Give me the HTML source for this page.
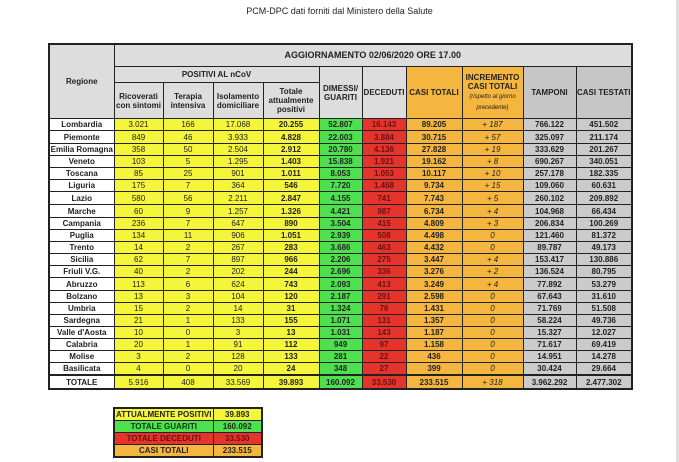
<!DOCTYPE html>
<html><head><meta charset="utf-8"><style>
body{margin:0;width:679px;height:462px;background:#fff;position:relative;overflow:hidden;font-family:"Liberation Sans",sans-serif;}
.title{position:absolute;left:0;width:679px;top:6px;text-align:center;font-size:9px;color:#222;}
.strip{position:absolute;right:0;top:0;width:3px;height:462px;background:#ddd;}
table{border-collapse:collapse;table-layout:fixed;position:absolute;}
td{border:1px solid #222;text-align:center;font-size:8px;font-weight:bold;padding:0;line-height:9px;color:#222;overflow:hidden;white-space:nowrap;}
#m{left:48px;top:43px;border:2px solid #222;}
#m tr.d td{height:11px;}
#m tr.t td{height:12px;}
.h{background:#ddd;white-space:normal;}
.g2{background:#c6c6c6;}
.y{background:#f5f53c;font-weight:normal;}
.yb{background:#f5f53c;}
.gr{background:#4fe04f;}
.r{background:#e4342c;color:#6a1010;}
.o{background:#f5b640;}
.oi{background:#f5b640;font-style:italic;font-weight:normal;}
.gy{background:#cbcbcb;}
.n{background:#fff;}
#s{left:113px;top:407px;border:2px solid #222;}
#s td{height:11px;font-size:8px;}
</style></head><body>
<div class="title">PCM-DPC dati forniti dal Ministero della Salute</div>
<div class="strip"></div>
<table id="m">
<colgroup><col style="width:65px"><col style="width:49px"><col style="width:50px"><col style="width:50px"><col style="width:56px"><col style="width:43px"><col style="width:44px"><col style="width:56px"><col style="width:61px"><col style="width:53px"><col style="width:56px"></colgroup>
<tr><td class="h" rowspan="3">Regione</td><td class="h" colspan="10" style="height:21px;font-size:9px">AGGIORNAMENTO 02/06/2020 ORE 17.00</td></tr>
<tr><td class="h" colspan="4" style="height:15px">POSITIVI AL nCoV</td><td class="h" rowspan="2">DIMESSI/<br>GUARITI</td><td class="h" rowspan="2">DECEDUTI</td><td class="o" rowspan="2">CASI TOTALI</td><td class="o" rowspan="2" style="white-space:normal;line-height:9px">INCREMENTO<br>CASI TOTALI<br><i style="font-weight:normal;font-size:6px">(rispetto al giorno precedente)</i></td><td class="g2" rowspan="2">TAMPONI</td><td class="g2" rowspan="2">CASI TESTATI</td></tr>
<tr><td class="h" style="height:35px">Ricoverati<br>con sintomi</td><td class="h">Terapia<br>intensiva</td><td class="h">Isolamento<br>domiciliare</td><td class="h">Totale<br>attualmente<br>positivi</td></tr>
<tr class="d"><td class="n">Lombardia</td><td class="y">3.021</td><td class="y">166</td><td class="y">17.068</td><td class="yb">20.255</td><td class="gr">52.807</td><td class="r">16.143</td><td class="o">89.205</td><td class="oi">+ 187</td><td class="gy">766.122</td><td class="gy">451.502</td></tr>
<tr class="t"><td class="n">Piemonte</td><td class="y">849</td><td class="y">46</td><td class="y">3.933</td><td class="yb">4.828</td><td class="gr">22.003</td><td class="r">3.884</td><td class="o">30.715</td><td class="oi">+ 57</td><td class="gy">325.097</td><td class="gy">211.174</td></tr>
<tr class="d"><td class="n">Emilia Romagna</td><td class="y">358</td><td class="y">50</td><td class="y">2.504</td><td class="yb">2.912</td><td class="gr">20.780</td><td class="r">4.136</td><td class="o">27.828</td><td class="oi">+ 19</td><td class="gy">333.629</td><td class="gy">201.267</td></tr>
<tr class="d"><td class="n">Veneto</td><td class="y">103</td><td class="y">5</td><td class="y">1.295</td><td class="yb">1.403</td><td class="gr">15.838</td><td class="r">1.921</td><td class="o">19.162</td><td class="oi">+ 8</td><td class="gy">690.267</td><td class="gy">340.051</td></tr>
<tr class="d"><td class="n">Toscana</td><td class="y">85</td><td class="y">25</td><td class="y">901</td><td class="yb">1.011</td><td class="gr">8.053</td><td class="r">1.053</td><td class="o">10.117</td><td class="oi">+ 10</td><td class="gy">257.178</td><td class="gy">182.335</td></tr>
<tr class="d"><td class="n">Liguria</td><td class="y">175</td><td class="y">7</td><td class="y">364</td><td class="yb">546</td><td class="gr">7.720</td><td class="r">1.468</td><td class="o">9.734</td><td class="oi">+ 15</td><td class="gy">109.060</td><td class="gy">60.631</td></tr>
<tr class="t"><td class="n">Lazio</td><td class="y">580</td><td class="y">56</td><td class="y">2.211</td><td class="yb">2.847</td><td class="gr">4.155</td><td class="r">741</td><td class="o">7.743</td><td class="oi">+ 5</td><td class="gy">260.102</td><td class="gy">209.892</td></tr>
<tr class="t"><td class="n">Marche</td><td class="y">60</td><td class="y">9</td><td class="y">1.257</td><td class="yb">1.326</td><td class="gr">4.421</td><td class="r">987</td><td class="o">6.734</td><td class="oi">+ 4</td><td class="gy">104.968</td><td class="gy">66.434</td></tr>
<tr class="d"><td class="n">Campania</td><td class="y">236</td><td class="y">7</td><td class="y">647</td><td class="yb">890</td><td class="gr">3.504</td><td class="r">415</td><td class="o">4.809</td><td class="oi">+ 3</td><td class="gy">206.834</td><td class="gy">100.269</td></tr>
<tr class="d"><td class="n">Puglia</td><td class="y">134</td><td class="y">11</td><td class="y">906</td><td class="yb">1.051</td><td class="gr">2.939</td><td class="r">508</td><td class="o">4.498</td><td class="oi">0</td><td class="gy">121.460</td><td class="gy">81.372</td></tr>
<tr class="d"><td class="n">Trento</td><td class="y">14</td><td class="y">2</td><td class="y">267</td><td class="yb">283</td><td class="gr">3.686</td><td class="r">463</td><td class="o">4.432</td><td class="oi">0</td><td class="gy">89.787</td><td class="gy">49.173</td></tr>
<tr class="d"><td class="n">Sicilia</td><td class="y">62</td><td class="y">7</td><td class="y">897</td><td class="yb">966</td><td class="gr">2.206</td><td class="r">275</td><td class="o">3.447</td><td class="oi">+ 4</td><td class="gy">153.417</td><td class="gy">130.886</td></tr>
<tr class="d"><td class="n">Friuli V.G.</td><td class="y">40</td><td class="y">2</td><td class="y">202</td><td class="yb">244</td><td class="gr">2.696</td><td class="r">336</td><td class="o">3.276</td><td class="oi">+ 2</td><td class="gy">136.524</td><td class="gy">80.795</td></tr>
<tr class="t"><td class="n">Abruzzo</td><td class="y">113</td><td class="y">6</td><td class="y">624</td><td class="yb">743</td><td class="gr">2.093</td><td class="r">413</td><td class="o">3.249</td><td class="oi">+ 4</td><td class="gy">77.892</td><td class="gy">53.279</td></tr>
<tr class="d"><td class="n">Bolzano</td><td class="y">13</td><td class="y">3</td><td class="y">104</td><td class="yb">120</td><td class="gr">2.187</td><td class="r">291</td><td class="o">2.598</td><td class="oi">0</td><td class="gy">67.643</td><td class="gy">31.610</td></tr>
<tr class="d"><td class="n">Umbria</td><td class="y">15</td><td class="y">2</td><td class="y">14</td><td class="yb">31</td><td class="gr">1.324</td><td class="r">76</td><td class="o">1.431</td><td class="oi">0</td><td class="gy">71.769</td><td class="gy">51.508</td></tr>
<tr class="d"><td class="n">Sardegna</td><td class="y">21</td><td class="y">1</td><td class="y">133</td><td class="yb">155</td><td class="gr">1.071</td><td class="r">131</td><td class="o">1.357</td><td class="oi">0</td><td class="gy">58.224</td><td class="gy">49.736</td></tr>
<tr class="d"><td class="n">Valle d'Aosta</td><td class="y">10</td><td class="y">0</td><td class="y">3</td><td class="yb">13</td><td class="gr">1.031</td><td class="r">143</td><td class="o">1.187</td><td class="oi">0</td><td class="gy">15.327</td><td class="gy">12.027</td></tr>
<tr class="d"><td class="n">Calabria</td><td class="y">20</td><td class="y">1</td><td class="y">91</td><td class="yb">112</td><td class="gr">949</td><td class="r">97</td><td class="o">1.158</td><td class="oi">0</td><td class="gy">71.617</td><td class="gy">69.419</td></tr>
<tr class="d"><td class="n">Molise</td><td class="y">3</td><td class="y">2</td><td class="y">128</td><td class="yb">133</td><td class="gr">281</td><td class="r">22</td><td class="o">436</td><td class="oi">0</td><td class="gy">14.951</td><td class="gy">14.278</td></tr>
<tr class="d"><td class="n">Basilicata</td><td class="y">4</td><td class="y">0</td><td class="y">20</td><td class="yb">24</td><td class="gr">348</td><td class="r">27</td><td class="o">399</td><td class="oi">0</td><td class="gy">30.424</td><td class="gy">29.664</td></tr>
<tr class="t" style="border-top:2px solid #222"><td class="n">TOTALE</td><td class="y">5.916</td><td class="y">408</td><td class="y">33.569</td><td class="yb">39.893</td><td class="gr">160.092</td><td class="r">33.530</td><td class="o">233.515</td><td class="oi">+ 318</td><td class="gy">3.962.292</td><td class="gy">2.477.302</td></tr>
</table>
<table id="s">
<colgroup><col style="width:99px"><col style="width:49px"></colgroup>
<tr><td class="yb">ATTUALMENTE POSITIVI</td><td class="yb">39.893</td></tr>
<tr><td class="gr" style="color:#0a3a0a">TOTALE GUARITI</td><td class="gr">160.092</td></tr>
<tr><td class="r">TOTALE DECEDUTI</td><td class="r">33.530</td></tr>
<tr><td class="o">CASI TOTALI</td><td class="o">233.515</td></tr>
</table>
</body></html>
